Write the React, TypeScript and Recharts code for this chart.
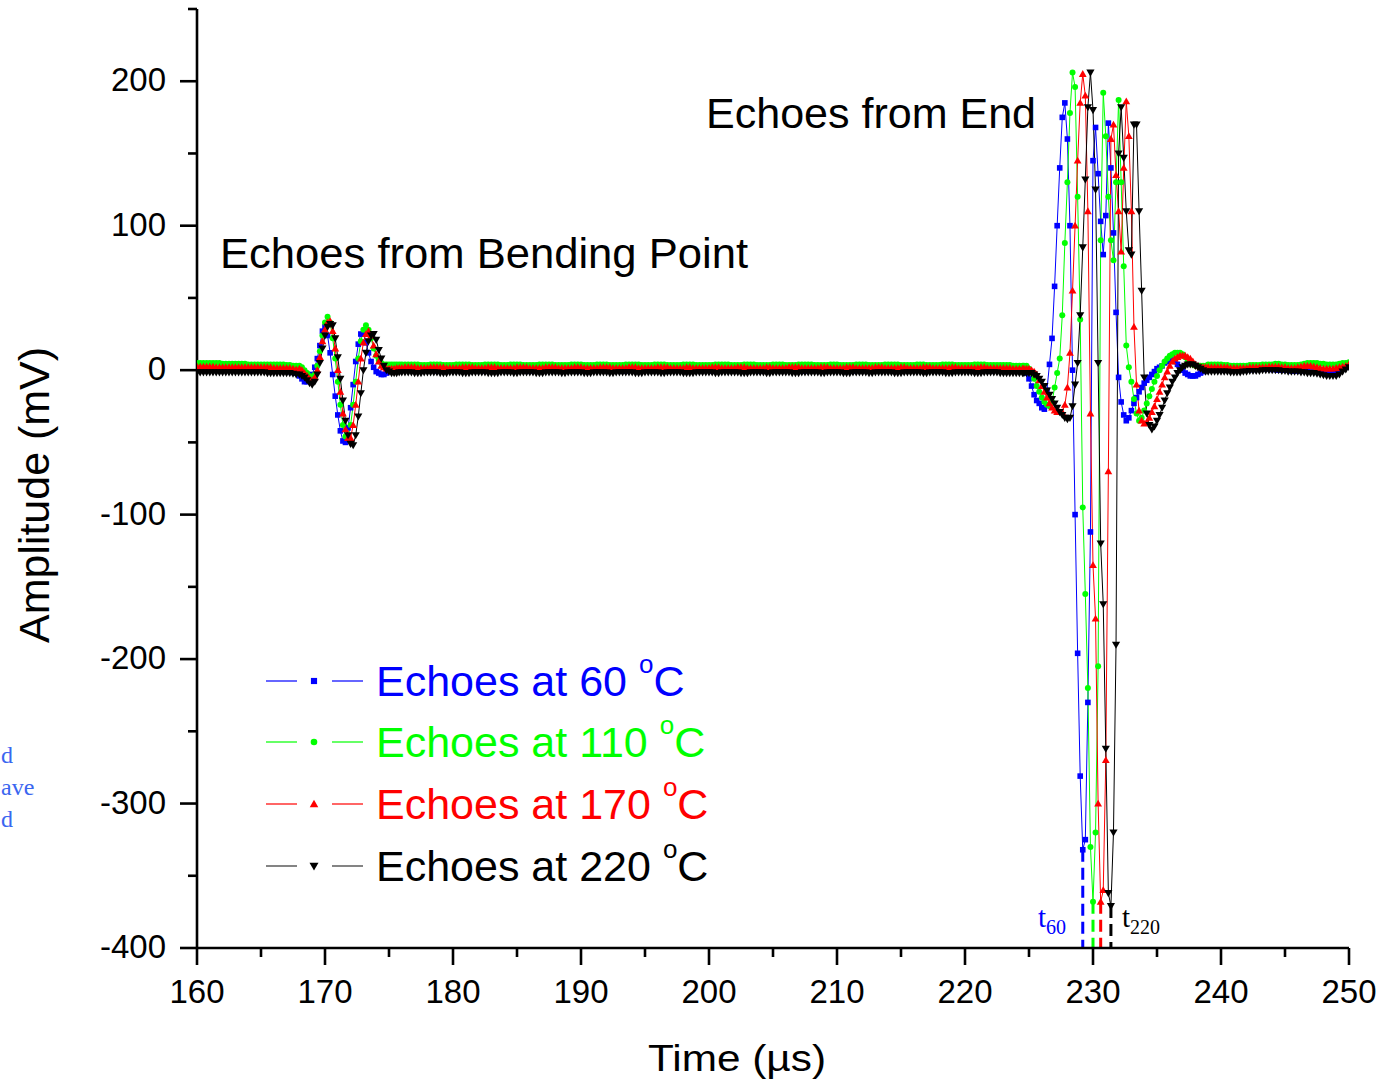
import React from 'react';
import { LineChart, Line, XAxis, YAxis, ReferenceLine, Legend, Customized } from 'recharts';

// ---------- sampling grids (start time, step in µs) ----------
const GRID_A = { start: 160, step: 0.25 };   // quiet baseline before bending echo
const GRID_B = { start: 168, step: 0.2 };    // echoes from bending point
const GRID_C = { start: 176.25, step: 0.25 };// quiet baseline
const GRID_D = { start: 224.6, step: 0.2 };  // echoes from end
const GRID_E = { start: 239.25, step: 0.25 };// tail

// ---------- 60 °C (blue) ----------
const blueA = [
  0, 0, 0, 0, 0, 0, 0, 0, 0, 0, 0, 0, 0, 0, 0, 0,
  0, 0, 0, 0, 0, 0, 0, 0, 0, 0, 0, 0, -0.5, -1, -1.5, -2,
];
const blueB = [
  -4, -6, -8, -8, -6, -3, 2, 8, 17, 27,
  30, 24, 12, -3, -18, -31, -42, -49, -50, -40,
  -26, -10, 6, 18, 25, 25, 19, 12, 6, 2,
  -1, -2, -3, -3, -2, -1, -0.5, 0, 0, 0,
  0,
];
const blueC = [
  0, 0, 0, 0.5, 0.5, 0.5, 0, 0, 0, 0, -0.5, -0.5, 0, 0, 0, 0, 0, 0.5, 0.5, 0,
  0, 0, 0, 0, 0, -0.5, 0, 0, 0, 0, 0.5, 0.5, 0, 0, 0, 0, 0, 0, -0.5, -0.5,
  0, 0, 0, 0, 0.5, 0.5, 0.5, 0, 0, 0, 0, 0, 0, 0, -0.5, 0, 0, 0, 0, 0,
  0.5, 0.5, 0, 0, 0, 0, 0, 0, -0.5, -0.5, 0, 0, 0, 0, 0.5, 0, 0, 0, 0, 0,
  0, 0, -0.5, 0, 0, 0, 0, 0.5, 0.5, 0, 0, 0, 0, 0, 0, 0, -0.5, -0.5, 0, 0,
  0, 0, 0, 0.5, 0.5, 0, 0, 0, 0, 0, 0, -0.5, 0, 0, 0, 0, 0, 0.5, 0, 0,
  0, 0, 0, 0, -0.5, -0.5, 0, 0, 0, 0, 0.5, 0.5, 0.5, 0, 0, 0, 0, 0, 0, 0,
  -0.5, 0, 0, 0, 0, 0, 0.5, 0, 0, 0, 0, 0, 0, -0.5, -0.5, 0, 0, 0, 0, 0.5,
  0.5, 0, 0, 0, 0, 0, 0, 0, 0, -0.5, 0, 0, 0, 0, 0.5, 0.5, 0, 0, 0, 0,
  0, 0, 0, -0.5, 0, 0, 0, 0, 0, 0, 0, 0, 0, 0,
];
const blueD = [
  0, -2, -6, -11, -17, -21, -23, -26, -27, -14,
  4, 22, 58, 100, 140, 175, 185, 160, 100, 0,
  -100, -196, -281, -332, -325, -230, -112, 145, 168, 136,
  103, 80, 107, 171, 140, 95, 40, -5, -22, -31,
  -35, -33, -28, -23, -19, -15, -12, -9, -7, -5,
  -3, -1, 1, 2, 3, 5, 6, 7, 7, 6,
  4, 2, 0, -2, -3, -4, -4, -4, -3, -2,
  -1, 0, 0,
];
const blueE = [
  0, 0, 0, 0, 0, 0, 0, 0,
  0, 0, 0.5, 0.5, 0.5, 0.5, 1, 1,
  1, 1, 1, 0.5, 0.5, 0, 0, 0,
  0, -0.5, -0.5, -0.5, -0.5, 0, 0, 0,
  -0.5, -1, -1.5, -2, -2, -2, -1.5, -1,
  0, 1, 2, 3,
];

// ---------- 110 °C (green) ----------
const greenA = [
  5, 5, 5, 5, 5, 5, 5, 5, 4.5, 4.5, 4.5, 4.5, 4.5, 4.5, 4.5, 4.5,
  4, 4, 4, 4, 4, 4, 4, 4, 4, 4, 4, 4, 3.5, 3.5, 3, 3,
];
const greenB = [
  3, 2, 0, -2, -4, -5, -3, 3, 13, 24,
  33, 37, 33, 22, 8, -8, -24, -38, -46, -47,
  -38, -24, -8, 8, 20, 28, 31, 28, 22, 15,
  10, 7, 5, 4, 4, 4, 4, 4, 4, 4,
  4,
];
const greenC = [
  4, 4, 4, 4, 4, 3.5, 3.5, 3.5, 4, 4, 4, 4, 3.5, 3.5, 3.5, 3.5, 4, 4, 4, 4,
  4, 3.5, 3.5, 3.5, 3.5, 4, 4, 4, 4, 4, 3.5, 3.5, 3.5, 4, 4, 4, 4, 3.5, 3.5, 3.5,
  3.5, 3.5, 4, 4, 4, 4, 4, 3.5, 3.5, 3.5, 3.5, 3.5, 4, 4, 4, 4, 3.5, 3.5, 3.5, 3.5,
  4, 4, 4, 4, 3.5, 3.5, 3.5, 3.5, 3.5, 4, 4, 4, 4, 4, 3.5, 3.5, 3.5, 3.5, 4, 4,
  4, 4, 3.5, 3.5, 3.5, 3.5, 3.5, 4, 4, 4, 4, 3.5, 3.5, 3.5, 3.5, 3.5, 3.5, 4, 4, 4,
  4, 4, 3.5, 3.5, 3.5, 3.5, 4, 4, 4, 4, 3.5, 3.5, 3.5, 3.5, 3.5, 4, 4, 4, 4, 3.5,
  3.5, 3.5, 3.5, 4, 4, 4, 4, 4, 3.5, 3.5, 3.5, 3.5, 3.5, 4, 4, 4, 3.5, 3.5, 3.5, 3.5,
  3.5, 4, 4, 4, 4, 3.5, 3.5, 3.5, 3.5, 3.5, 4, 4, 4, 4, 4, 3.5, 3.5, 3.5, 3.5, 3.5,
  4, 4, 4, 3.5, 3.5, 3.5, 3.5, 3.5, 4, 4, 4, 4, 3.5, 3.5, 3.5, 3.5, 3.5, 3.5, 4, 4,
  4, 4, 3.5, 3.5, 3.5, 3.5, 3.5, 3.5, 3.5, 3.5, 3, 3, 3, 3,
];
const greenD = [
  3, 3, 1, -2, -6, -11, -15, -19, -22, -24,
  -25, -22, -12, -2, 8, 38, 88, 130, 178, 206,
  196, 120, 35, -95, -155, -220, -330, -368, -320, -205,
  90, 192, 162, 120, 90, 76, 130, 187, 130, 72,
  17, 2, -8, -20, -30, -35, -33, -28, -23, -18,
  -13, -8, -4, 0, 3, 6, 8, 10, 11, 12,
  12, 12, 11, 9, 7, 5, 4, 3, 3, 3,
  3, 3, 4,
];
const greenE = [
  4, 4, 4, 4, 3.5, 3.5, 3, 3,
  3, 3, 3, 3, 3.5, 3.5, 3.5, 3.5,
  4, 4, 4, 4, 4.5, 4.5, 4, 4,
  3.5, 3.5, 3.5, 3.5, 4, 4.5, 5, 5,
  5, 5, 4.5, 4.5, 4, 4, 4, 4,
  4.5, 5, 5, 5.5,
];

// ---------- 170 °C (red) ----------
const redA = [
  2.5, 2.5, 2.5, 2.5, 2.5, 2.5, 2, 2, 2, 2, 2, 2, 2, 2, 2, 2,
  2, 2, 2, 2, 2, 2, 2, 2, 1.5, 1.5, 1.5, 1.5, 1.5, 1.5, 1, 0.5,
];
const redB = [
  1, 0, -2, -4, -6, -7, -5, 0, 9, 20,
  28, 33, 34, 27, 15, 0, -15, -30, -41, -47,
  -47, -38, -24, -8, 8, 19, 25, 27, 24, 17,
  11, 6, 3, 2, 1, 1, 1, 1, 1.5, 1.5,
  1.5,
];
const redC = [
  2, 2, 2, 2, 1.5, 1.5, 1.5, 1.5, 2, 2, 2, 2, 2, 1.5, 1.5, 1.5, 1.5, 1.5, 2, 2,
  2, 2, 1.5, 1.5, 1.5, 1.5, 2, 2, 2, 1.5, 1.5, 1.5, 1.5, 1.5, 1.5, 2, 2, 2, 2, 1.5,
  1.5, 1.5, 1.5, 1.5, 2, 2, 2, 2, 1.5, 1.5, 1.5, 1.5, 1.5, 2, 2, 2, 1.5, 1.5, 1.5, 1.5,
  1.5, 2, 2, 2, 2, 1.5, 1.5, 1.5, 1.5, 1.5, 2, 2, 2, 1.5, 1.5, 1.5, 1.5, 1.5, 1.5, 2,
  2, 2, 2, 1.5, 1.5, 1.5, 1.5, 1.5, 2, 2, 1.5, 1.5, 1.5, 1.5, 1.5, 1.5, 2, 2, 2, 1.5,
  1.5, 1.5, 1.5, 1.5, 2, 2, 2, 1.5, 1.5, 1.5, 1.5, 1.5, 1.5, 2, 2, 1.5, 1.5, 1.5, 1.5, 1.5,
  2, 2, 2, 2, 1.5, 1.5, 1.5, 1.5, 1.5, 1.5, 2, 2, 2, 1.5, 1.5, 1.5, 1.5, 1.5, 2, 2,
  2, 1.5, 1.5, 1.5, 1.5, 1.5, 1.5, 2, 2, 2, 1.5, 1.5, 1.5, 1.5, 1.5, 2, 2, 1.5, 1.5, 1.5,
  1.5, 1.5, 2, 2, 2, 1.5, 1.5, 1.5, 1.5, 1.5, 1.5, 2, 2, 1.5, 1.5, 1.5, 1.5, 1.5, 1.5, 1.5,
  2, 2, 1.5, 1.5, 1.5, 1.5, 1.5, 1.5, 1.5, 1.5, 1, 1, 1, 1,
];
const redD = [
  1, 1, 1, 0, -1, -3, -7, -11, -15, -19,
  -23, -26, -28, -29, -29, -29, -24, -12, 12, 55,
  100, 145, 185, 205, 190, 110, -30, -135, -172, -300,
  -368, -360, -270, -70, 160, 170, 135, 110, 82, 140,
  186, 162, 110, 30, -10, -28, -35, -37, -36, -33,
  -29, -25, -20, -15, -10, -5, -1, 3, 6, 8,
  9, 10, 10, 10, 9, 8, 6, 4, 3, 2,
  2, 2, 2,
];
const redE = [
  2, 2, 2, 2, 2, 2, 1.5, 1.5,
  1.5, 1.5, 1.5, 1.5, 2, 2, 2, 2,
  2, 2, 2.5, 2.5, 2.5, 2.5, 2, 2,
  1.5, 1.5, 1.5, 2, 2.5, 3, 3, 3,
  2.5, 2, 1.5, 1, 1, 1, 1, 1.5,
  2, 2.5, 3, 4,
];

// ---------- 220 °C (black) ----------
const blackA = [
  -1.5, -1.5, -1.5, -1.5, -1.5, -1.5, -1.5, -1.5, -1.5, -1.5, -1.5, -1.5, -1.5, -1.5, -1.5, -1.5,
  -1.5, -1.5, -1.5, -1.5, -1.5, -1.5, -2, -2, -2, -2, -2, -2, -2, -2, -2.5, -3,
];
const blackB = [
  -3, -4, -5, -7, -9, -10, -8, -3, 5, 15,
  24, 30, 32, 31, 22, 9, -6, -21, -35, -45,
  -51, -52, -45, -32, -16, 0, 12, 20, 24, 25,
  21, 14, 8, 3, 0, -1, -2, -2, -2, -1.5,
  -1.5,
];
const blackC = [
  -1.5, -1.5, -1.5, -2, -2, -2, -1.5, -1.5, -1.5, -1.5, -1.5, -2, -2, -2, -1.5, -1.5, -1.5, -1.5, -2, -2,
  -2, -1.5, -1.5, -1.5, -1.5, -1.5, -2, -2, -2, -2, -1.5, -1.5, -1.5, -1.5, -2, -2, -1.5, -1.5, -1.5, -1.5,
  -1.5, -2, -2, -2, -1.5, -1.5, -1.5, -1.5, -1.5, -2, -2, -1.5, -1.5, -1.5, -1.5, -1.5, -2, -2, -2, -1.5,
  -1.5, -1.5, -1.5, -1.5, -2, -2, -1.5, -1.5, -1.5, -1.5, -1.5, -1.5, -2, -2, -2, -1.5, -1.5, -1.5, -1.5, -1.5,
  -2, -2, -1.5, -1.5, -1.5, -1.5, -1.5, -2, -2, -2, -2, -1.5, -1.5, -1.5, -1.5, -1.5, -1.5, -2, -2, -1.5,
  -1.5, -1.5, -1.5, -1.5, -1.5, -2, -2, -2, -1.5, -1.5, -1.5, -1.5, -1.5, -2, -2, -1.5, -1.5, -1.5, -1.5, -1.5,
  -1.5, -2, -2, -2, -1.5, -1.5, -1.5, -1.5, -1.5, -1.5, -2, -2, -1.5, -1.5, -1.5, -1.5, -1.5, -2, -2, -2,
  -1.5, -1.5, -1.5, -1.5, -1.5, -2, -2, -1.5, -1.5, -1.5, -1.5, -1.5, -1.5, -2, -2, -2, -1.5, -1.5, -1.5, -1.5,
  -1.5, -1.5, -2, -2, -1.5, -1.5, -1.5, -1.5, -1.5, -2, -2, -2, -1.5, -1.5, -1.5, -1.5, -1.5, -1.5, -2, -2,
  -2, -1.5, -1.5, -1.5, -1.5, -1.5, -2, -2, -2, -2, -2, -2, -2, -2,
];
const blackD = [
  -2, -2, -2, -2, -3, -4, -6, -8, -11, -14,
  -17, -20, -23, -26, -29, -31, -33, -34, -33, -25,
  -10, 5, 38, 85, 132, 182, 206, 180, 125, 5,
  -120, -162, -262, -362, -371, -320, -190, 150, 182, 147,
  110, 83, 80, 170, 170, 110, 55, -5, -30, -38,
  -41, -39, -35, -31, -26, -21, -16, -12, -8, -5,
  -2, 0, 2, 3, 4, 4, 4, 3, 2, 1,
  0, -1, -1,
];
const blackE = [
  -1, -1, -1, -1, -1, -1, -1.5, -1.5,
  -1.5, -1.5, -1, -1, -0.5, -0.5, -0.5, -0.5,
  0, 0, 0, 0, 0, 0, -0.5, -0.5,
  -1, -1, -1, -1, -1.5, -1.5, -2, -2,
  -2, -2.5, -3, -3.5, -4, -4, -4, -4,
  -3, -1, 0.5, 2,
];

// ---------- trough markers (t, mV) for the dashed arrival-time lines ----------
const troughBlue = { t: 229.2, v: -332 };
const troughGreen = { t: 230.0, v: -368 };
const troughRed = { t: 230.6, v: -368 };
const troughBlack = { t: 231.4, v: -371 };

// ---------- axes ----------
const xTicks = [160, 165, 170, 175, 180, 185, 190, 195, 200, 205, 210, 215, 220, 225, 230, 235, 240, 245, 250];
const yTicks = [-400, -350, -300, -250, -200, -150, -100, -50, 0, 50, 100, 150, 200, 250];
const xLabelled = [160, 170, 180, 190, 200, 210, 220, 230, 240, 250];
const yLabelled = [-400, -300, -200, -100, 0, 100, 200];

const seriesNames = ['Echoes at 60 ', 'Echoes at 110 ', 'Echoes at 170 ', 'Echoes at 220 '];

type Pt = { t: number; v: number };
const build = (parts: [{ start: number; step: number }, number[]][]): Pt[] =>
  parts.flatMap(([g, vals]) => vals.map((v, i) => ({ t: Math.round((g.start + g.step * i) * 1000) / 1000, v })));

const blueData = build([[GRID_A, blueA], [GRID_B, blueB], [GRID_C, blueC], [GRID_D, blueD], [GRID_E, blueE]]);
const greenData = build([[GRID_A, greenA], [GRID_B, greenB], [GRID_C, greenC], [GRID_D, greenD], [GRID_E, greenE]]);
const redData = build([[GRID_A, redA], [GRID_B, redB], [GRID_C, redC], [GRID_D, redD], [GRID_E, redE]]);
const blackData = build([[GRID_A, blackA], [GRID_B, blackB], [GRID_C, blackC], [GRID_D, blackD], [GRID_E, blackE]]);

const SANS = "'Liberation Sans', Arial, Helvetica, sans-serif";
const SERIF = "'Liberation Serif', 'Times New Roman', serif";

const COLORS = ['#0000ff', '#00ff00', '#ff0000', '#000000'];
const KINDS = ['square', 'circle', 'up', 'down'];

function Marker({ kind, color, cx, cy, s = 1 }: { kind: string; color: string; cx: number; cy: number; s?: number }) {
  if (kind === 'square') return <rect x={cx - 2.8 * s} y={cy - 2.8 * s} width={5.6 * s} height={5.6 * s} fill={color} />;
  if (kind === 'circle') return <circle cx={cx} cy={cy} r={3 * s} fill={color} />;
  if (kind === 'up')
    return <polygon points={`${cx},${cy - 3.9 * s} ${cx + 3.9 * s},${cy + 2.9 * s} ${cx - 3.9 * s},${cy + 2.9 * s}`} fill={color} />;
  return <polygon points={`${cx - 4.1 * s},${cy - 3 * s} ${cx + 4.1 * s},${cy - 3 * s} ${cx},${cy + 4.1 * s}`} fill={color} />;
}

const makeDot = (kind: string, color: string) => (p: any) => {
  const { cx, cy, index } = p;
  if (cx == null || cy == null) return <g key={`n${kind}${index}`} />;
  return (
    <g key={`${kind}${index}`}>
      <Marker kind={kind} color={color} cx={cx} cy={cy} />
    </g>
  );
};

const XTick = (props: any) => {
  const { x, y, payload } = props;
  const v = payload.value;
  const major = xLabelled.includes(v);
  return (
    <g>
      <line x1={x} y1={y} x2={x} y2={y + (major ? 17 : 9)} stroke="#000" strokeWidth={2.6} />
      {major && (
        <text x={x} y={y + 55} textAnchor="middle" fontSize={33} fontFamily={SANS} fill="#000">
          {v}
        </text>
      )}
    </g>
  );
};

const YTick = (props: any) => {
  const { x, y, payload } = props;
  const v = payload.value;
  const major = yLabelled.includes(v);
  return (
    <g>
      <line x1={x - (major ? 17 : 9)} y1={y} x2={x} y2={y} stroke="#000" strokeWidth={2.6} />
      {major && (
        <text x={x - 31} y={y + 10} textAnchor="end" fontSize={33} fontFamily={SANS} fill="#000">
          {v}
        </text>
      )}
    </g>
  );
};

const LEGEND_ROWS = [41, 102, 164, 226];

const LegendBox = () => (
  <svg width={480} height={260} style={{ display: 'block', overflow: 'visible' }}>
    {seriesNames.map((name, i) => {
      const cy = LEGEND_ROWS[i];
      const c = COLORS[i];
      const lineColor = i === 3 ? '#333' : c;
      return (
        <g key={name}>
          <line x1={6} y1={cy} x2={37} y2={cy} stroke={lineColor} strokeWidth={1.2} />
          <Marker kind={KINDS[i]} color={c} cx={54} cy={cy} s={1.1} />
          <line x1={72} y1={cy} x2={103} y2={cy} stroke={lineColor} strokeWidth={1.2} />
          <text x={116} y={cy + 15} fontSize={43} fontFamily={SANS} fill={c}>
            {name}
            <tspan fontSize={26} dy={-23}>o</tspan>
            <tspan dy={23}>C</tspan>
          </text>
        </g>
      );
    })}
  </svg>
);

const Annotations = () => (
  <g>
    <text x={220} y={268} fontSize={43} fontFamily={SANS} fill="#000" textLength={528} lengthAdjust="spacingAndGlyphs">
      Echoes from Bending Point
    </text>
    <text x={706} y={128} fontSize={43} fontFamily={SANS} fill="#000" textLength={330} lengthAdjust="spacingAndGlyphs">
      Echoes from End
    </text>
    <text x={737} y={1071} fontSize={37} fontFamily={SANS} fill="#000" textAnchor="middle" textLength={178} lengthAdjust="spacingAndGlyphs">
      Time (µs)
    </text>
    <text
      transform="translate(49,495) rotate(-90)"
      fontSize={42}
      fontFamily={SANS}
      fill="#000"
      textAnchor="middle"
      textLength={296}
      lengthAdjust="spacingAndGlyphs"
    >
      Amplitude (mV)
    </text>
    <text x={1038} y={927} fontSize={29} fontFamily={SERIF} fill="#0000ff">
      t<tspan fontSize={20} dy={7}>60</tspan>
    </text>
    <text x={1122} y={927} fontSize={29} fontFamily={SERIF} fill="#000">
      t<tspan fontSize={20} dy={7}>220</tspan>
    </text>
    <g fontSize={24} fontFamily={SERIF} fill="#3a66f0">
      <text x={1} y={763}>d</text>
      <text x={1} y={795}>ave</text>
      <text x={1} y={827}>d</text>
    </g>
  </g>
);

export default function App() {
  return (
    <div style={{ position: 'absolute', left: 0, top: 0, width: 1395, height: 1084, overflow: 'hidden', background: '#fff', fontFamily: SANS }}>
      <LineChart width={1395} height={1084} margin={{ top: 9, right: 46, bottom: 0, left: 0 }}>
        <XAxis
          type="number"
          dataKey="t"
          domain={[160, 250]}
          ticks={xTicks}
          interval={0}
          tick={<XTick />}
          tickLine={false}
          tickSize={0}
          tickMargin={0}
          height={136}
          axisLine={{ stroke: '#000', strokeWidth: 2.6 }}
          allowDataOverflow
        />
        <YAxis
          type="number"
          dataKey="v"
          domain={[-400, 250]}
          ticks={yTicks}
          interval={0}
          tick={<YTick />}
          tickLine={false}
          tickSize={0}
          tickMargin={0}
          width={197}
          axisLine={{ stroke: '#000', strokeWidth: 2.6 }}
          allowDataOverflow
        />
        <Line data={blueData} dataKey="v" name={seriesNames[0] + '°C'} stroke={COLORS[0]} strokeWidth={1} dot={makeDot('square', COLORS[0])} activeDot={false} isAnimationActive={false} />
        <Line data={greenData} dataKey="v" name={seriesNames[1] + '°C'} stroke={COLORS[1]} strokeWidth={1} dot={makeDot('circle', COLORS[1])} activeDot={false} isAnimationActive={false} />
        <Line data={redData} dataKey="v" name={seriesNames[2] + '°C'} stroke={COLORS[2]} strokeWidth={1} dot={makeDot('up', COLORS[2])} activeDot={false} isAnimationActive={false} />
        <Line data={blackData} dataKey="v" name={seriesNames[3] + '°C'} stroke={COLORS[3]} strokeWidth={1} dot={makeDot('down', COLORS[3])} activeDot={false} isAnimationActive={false} />
        <ReferenceLine segment={[{ x: troughBlue.t, y: troughBlue.v }, { x: troughBlue.t, y: -400 }]} stroke="#0000ff" strokeWidth={3} strokeDasharray="12 6" />
        <ReferenceLine segment={[{ x: troughGreen.t, y: troughGreen.v }, { x: troughGreen.t, y: -400 }]} stroke="#00ff00" strokeWidth={3} strokeDasharray="12 6" />
        <ReferenceLine segment={[{ x: troughRed.t, y: troughRed.v }, { x: troughRed.t, y: -400 }]} stroke="#ff0000" strokeWidth={3} strokeDasharray="12 6" />
        <ReferenceLine segment={[{ x: troughBlack.t, y: troughBlack.v }, { x: troughBlack.t, y: -400 }]} stroke="#000000" strokeWidth={3} strokeDasharray="12 6" />
        <Legend
          layout="horizontal"
          verticalAlign="middle"
          align="center"
          content={<LegendBox />}
          wrapperStyle={{ left: 260, top: 640, width: 480, height: 260 }}
        />
        <Customized component={Annotations} />
      </LineChart>
    </div>
  );
}
